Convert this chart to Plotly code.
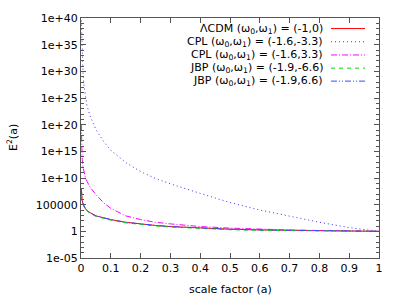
import plotly.graph_objects as go

# scale factor grid
a = [0.001, 0.002, 0.004, 0.007, 0.01, 0.015, 0.02, 0.03, 0.05, 0.075, 0.1,
     0.15, 0.2, 0.25, 0.3, 0.4, 0.5, 0.6, 0.7, 0.8, 0.9, 1.0]

# E^2(a) values
lcdm = [1e8, 4e6, 6.3e5, 1.3e5, 5e4, 1.6e4, 8e3, 3.2e3, 800, 316, 160,
        50, 22, 12.6, 7.9, 4.0, 2.5, 1.86, 1.48, 1.26, 1.12, 1.0]
cpl_neg = [3.2e39, 1.6e37, 1e33, 3.2e29, 2e27, 1e25, 4e23, 5e21, 1.3e19, 8e16, 1.6e15,
           8e12, 1.6e11, 8e9, 8e8, 1.3e7, 2.5e5, 1e4, 630, 50, 5, 1.0]
cpl_pos = [1e20, 3.2e16, 3.2e13, 1e12, 1e11, 1e10, 2.5e9, 2e8, 8e6, 2.5e5, 2e4,
           800, 160, 50, 25, 7.9, 4.0, 2.5, 1.78, 1.41, 1.17, 1.0]
jbp_neg = [5e6, 1e6, 3.2e5, 1e5, 4e4, 1.3e4, 6.3e3, 2.5e3, 630, 250, 126,
           40, 18, 10, 6.3, 3.2, 2.0, 1.5, 1.26, 1.12, 1.05, 1.0]
jbp_pos = [1e8, 5e6, 7e5, 1.4e5, 5.2e4, 1.6e4, 8e3, 3.2e3, 800, 316, 160,
           50, 22, 12.6, 7.9, 4.0, 2.5, 1.86, 1.48, 1.26, 1.12, 1.0]

labels = ["ΛCDM (ω<sub>0</sub>,ω<sub>1</sub>) = (-1,0)",
          "CPL (ω<sub>0</sub>,ω<sub>1</sub>) = (-1.6,-3.3)",
          "CPL (ω<sub>0</sub>,ω<sub>1</sub>) = (-1.6,3.3)",
          "JBP (ω<sub>0</sub>,ω<sub>1</sub>) = (-1.9,-6.6)",
          "JBP (ω<sub>0</sub>,ω<sub>1</sub>) = (-1.9,6.6)"]
series = [lcdm, cpl_neg, cpl_pos, jbp_neg, jbp_pos]
colors = ["#ff0000", "#3030ff", "#ff00ff", "#00dd00", "#3050ff"]
dashes = ["solid", "1px,3px", "6px,2px,1px,2px", "4px,4px", "6px,2px,1px,2px,1px,2px"]

ytick_vals = [10.0 ** e for e in range(-5, 41, 5)]
ytick_text = ["1e-05", "1", "100000"] + ["1e+%d" % e for e in range(10, 41, 5)]
yminor_vals = [10.0 ** e for e in range(-5, 41) if e % 5 != 0]
xtick_vals = [0, 0.1, 0.2, 0.3, 0.4, 0.5, 0.6, 0.7, 0.8, 0.9, 1]
xtick_text = ["0", "0.1", "0.2", "0.3", "0.4", "0.5", "0.6", "0.7", "0.8", "0.9", "1"]

FONT = "DejaVu Sans"
fig = go.Figure()
for ys, c, d in zip(series, colors, dashes):
    fig.add_trace(go.Scatter(x=a, y=ys, mode="lines", showlegend=False,
                             line=dict(color=c, width=1, dash=d)))

# legend (gnuplot style: text then sample)
row_y = [0.956, 0.901, 0.846, 0.791, 0.737]
for lab, c, d, yy in zip(labels, colors, dashes, row_y):
    fig.add_annotation(x=0.819, y=yy, xref="paper", yref="paper", text=lab,
                       showarrow=False, xanchor="right", yanchor="middle",
                       font=dict(family=FONT, size=11, color="black"))
    fig.add_shape(type="line", xref="paper", yref="paper", x0=0.839, x1=0.953,
                  y0=yy, y1=yy, line=dict(color=c, width=1, dash=d))

fig.add_annotation(x=-0.2315, y=0.5, xref="paper", yref="paper",
                   text="E<sup>2</sup>(a)", textangle=-90, showarrow=False,
                   xanchor="center", yanchor="middle",
                   font=dict(family=FONT, size=11, color="black"))
fig.add_annotation(x=0.5, y=-0.132, xref="paper", yref="paper",
                   text="scale factor (a)", showarrow=False,
                   xanchor="center", yanchor="middle",
                   font=dict(family=FONT, size=11, color="black"))

axcol = "#555555"
fig.update_layout(
    width=400, height=300,
    margin=dict(l=81, r=21, t=15, b=42),
    paper_bgcolor="white", plot_bgcolor="white",
    font=dict(family=FONT, size=11, color="black"),
    xaxis=dict(range=[0, 1], tickvals=xtick_vals, ticktext=xtick_text,
               ticks="inside", ticklen=5, tickcolor=axcol, showgrid=False,
               zeroline=False, showline=True, linecolor=axcol, linewidth=1,
               mirror="ticks"),
    yaxis=dict(type="log", range=[-5, 40], tickvals=ytick_vals, ticktext=ytick_text,
               ticks="inside", ticklen=5, tickcolor=axcol, showgrid=False,
               zeroline=False, showline=True, linecolor=axcol, linewidth=1,
               mirror="ticks",
               minor=dict(tickvals=yminor_vals, ticks="inside", ticklen=3,
                          tickcolor=axcol, showgrid=False)),
)
fig.write_html("out.html", config={"displayModeBar": False},
               post_script="document.body.style.margin='0';document.body.style.padding='0';")
